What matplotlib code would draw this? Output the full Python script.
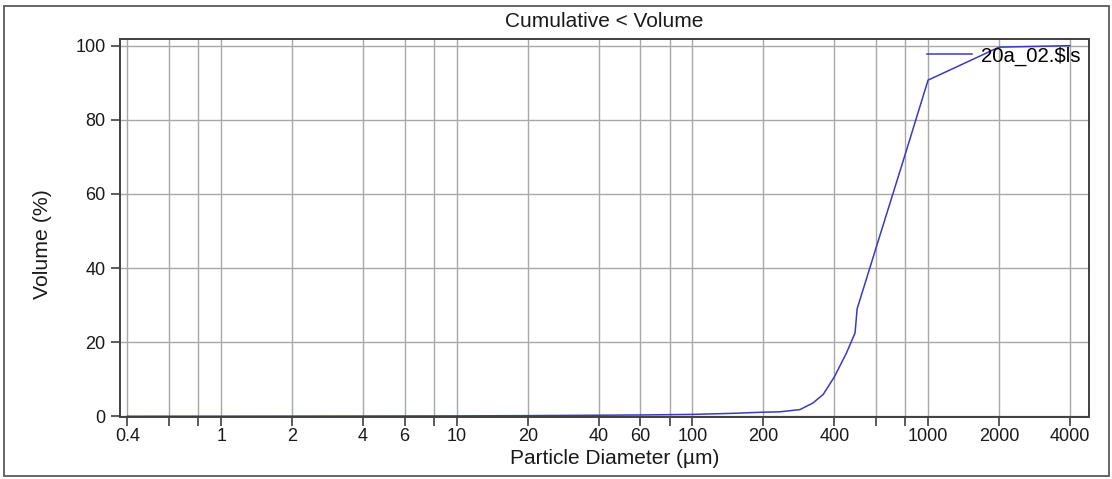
import matplotlib
matplotlib.use("Agg")
import matplotlib.pyplot as plt
from matplotlib.patches import Rectangle
from matplotlib.ticker import FixedLocator, FixedFormatter, NullLocator

plt.rcParams['font.family'] = ['Liberation Sans', 'DejaVu Sans']

# Cumulative volume distribution of sample 20a_02
diameter_um = [0.4, 1, 2, 4, 10, 20, 40, 60, 100, 150, 200, 235, 286, 325,
               359, 400, 450, 490, 500, 600, 800, 1000, 1700, 2000, 4000]
cum_volume = [0.0, 0.02, 0.04, 0.06, 0.1, 0.17, 0.28, 0.35, 0.5, 0.8, 1.1,
              1.2, 1.8, 3.6, 5.9, 10.6, 17.0, 22.5, 29.0, 45.2, 70.7, 90.7,
              97.5, 99.6, 100.0]
series_name = "20a_02.\\$ls"

x_ticks = [0.4, 0.6, 0.8, 1, 2, 4, 6, 8, 10, 20, 40, 60, 80, 100, 200, 400,
           600, 800, 1000, 2000, 4000]
x_tick_labels = ["0.4", "", "", "1", "2", "4", "6", "", "10", "20", "40",
                 "60", "", "100", "200", "400", "", "", "1000", "2000", "4000"]
y_ticks = [0, 20, 40, 60, 80, 100]

W, H = 1112, 479
fig = plt.figure(figsize=(W / 100, H / 100), dpi=100)
left, right, top, bottom = 120, 1089, 39, 417
ax = fig.add_axes([left / W, 1 - bottom / H, (right - left) / W, (bottom - top) / H])

line_color = "#3a3ac0"
ax.plot(diameter_um, cum_volume, color=line_color, lw=1.1, label=series_name)

ax.set_xscale("log")
ax.set_xlim(0.372, 4820)
ax.set_ylim(-0.2, 101.8)

ax.xaxis.set_major_locator(FixedLocator(x_ticks))
ax.xaxis.set_major_formatter(FixedFormatter(x_tick_labels))
ax.xaxis.set_minor_locator(NullLocator())
ax.set_yticks(y_ticks)

ax.grid(True, which="major", color="#a8a8a8", lw=1.0)
ax.set_axisbelow(True)

for s in ax.spines.values():
    s.set_color("#404040")
    s.set_linewidth(1.4)

ax.tick_params(axis="both", which="major", direction="out", length=6.5,
               width=1.2, color="#404040", labelsize=13, labelcolor="#1a1a1a")
ax.tick_params(axis="x", pad=1.5)
ax.tick_params(axis="y", pad=4)

ax.set_title("Cumulative < Volume", fontsize=15, color="#1a1a1a", pad=8.8)
ax.set_xlabel("Particle Diameter (µm)", fontsize=15, color="#1a1a1a")
ax.xaxis.set_label_coords((615 - left) / (right - left), -(464 - bottom) / (bottom - top))
ax.xaxis.label.set_va("baseline")
ax.set_ylabel("Volume (%)", fontsize=15.3, color="#1a1a1a")
ax.yaxis.set_label_coords((42 - left) / (right - left), 1 - (244 - top) / (bottom - top))
ax.yaxis.label.set_va("center")

ax.legend(loc="center right", bbox_to_anchor=((1081 - left) / (right - left), 1 - (56 - top) / (bottom - top)),
          frameon=False, fontsize=14.7, handlelength=2.2, handletextpad=0.45,
          borderpad=0, borderaxespad=0)

# outer frame around the whole chart
fig.patches.append(Rectangle((4 / W, 1 - 476 / H), 1105 / W, 470 / H,
                             transform=fig.transFigure, fill=False,
                             edgecolor="#5a5a5a", lw=1.3))

fig.savefig("out.png", dpi=100)
